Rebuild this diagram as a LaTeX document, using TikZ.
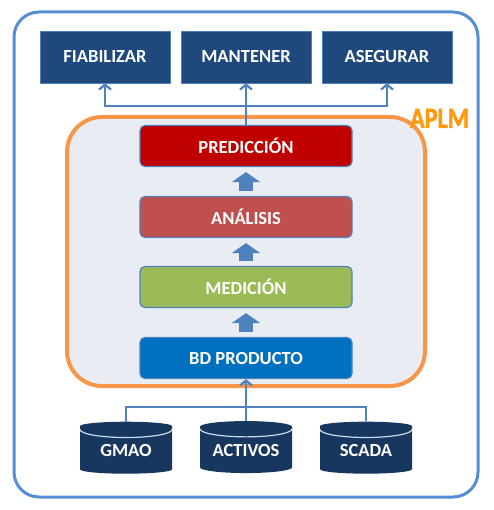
\documentclass[tikz,border=0pt]{standalone}
\usepackage{fontspec}
\setmainfont{Carlito}
\newfontfamily\aplmfont{Carlito}[UprightFont={* Bold}, FakeStretch=0.82,
FakeBold=1.5]
\usetikzlibrary{arrows.meta,shapes.geometric,calc}
\definecolor{navy}{HTML}{1F497D}
\definecolor{frameblue}{HTML}{558ED5}
\definecolor{lineblue}{HTML}{4F81BD}
\definecolor{aplmorange}{HTML}{F79646}
\definecolor{aplmtext}{HTML}{FF9A10}
\definecolor{panelgray}{HTML}{E9EDF3}
\definecolor{predred}{HTML}{C00000}
\definecolor{anared}{HTML}{C0504D}
\definecolor{medgreen}{HTML}{9BBB59}
\definecolor{bdblue}{HTML}{0070C0}
\definecolor{dbnavy}{HTML}{17375E}
\begin{document}
\begin{tikzpicture}[x=1pt, y=-1pt,
    goal/.style={rectangle, draw=lineblue, fill=navy, text=white,
      minimum width=130pt, minimum height=52pt, inner sep=0pt},
    layer/.style={rectangle, rounded corners=5pt, draw=lineblue,
      line width=1.2pt, text=white, minimum width=212pt,
      minimum height=41pt, inner sep=0pt},
    source/.style={cylinder, shape border rotate=90, aspect=0.17,
      fill=dbnavy, text=white, minimum width=92pt, minimum height=52pt,
      inner sep=0pt},
    feed/.style={draw=lineblue, line width=2.2pt},
    push/.style={lineblue, line width=14pt, shorten <=5pt, shorten >=5pt,
      -{Triangle[length=10pt, width=28pt]}},
    font=\fontsize{18.5}{21}\selectfont\bfseries]
  \useasboundingbox (0,0) rectangle (493,510);
  \fill[white] (0,0) rectangle (493,510);
  \draw[frameblue, line width=3pt, rounded corners=25pt] (14,12) rectangle
  (478,497);
  \draw[aplmorange, fill=panelgray, line width=4pt, rounded corners=35pt]
  (67,117) rectangle (425,386);
  \node[text=aplmtext, anchor=base, inner sep=0pt,
  font=\aplmfont\fontsize{29.5}{30}\selectfont] (aplm) at (439.5,128) {APLM};

  \begin{scope}[every node/.style={goal}]
    \node (fiab) at (105,57) {FIABILIZAR}; \node (mant) at (246,57)
    {MANTENER}; \node (aseg) at (387,57) {ASEGURAR};
  \end{scope}

  \begin{scope}[every node/.style={layer}]
    \node[fill=predred] (pred) at (246,146) {PREDICCIÓN}; \node[fill=anared]
    (ana) at (246,217) {ANÁLISIS}; \node[fill=medgreen] (med) at (246,287)
    {MEDICIÓN}; \node[fill=bdblue] (bd) at (246,358) {BD PRODUCTO};
  \end{scope}

  \begin{scope}[every node/.style={source}]
    \node (gmao) at (126,450) {GMAO}; \node (actv) at (246,450) {ACTIVOS};
    \node (scada) at (366,450) {SCADA};
  \end{scope}
  \foreach \db in {gmao,actv,scada}
    \draw[white!70!lineblue, line width=1.2pt] ($(\db.top)+(-46,8)$) arc
    [start angle=180, end angle=0, x radius=46, y radius=8];

  \draw[push] (bd) -- (med); \draw[push] (med) -- (ana); \draw[push] (ana)
  -- (pred);

  \coordinate (split) at (246,106); \coordinate (merge) at (246,407);
  \begin{scope}[feed, -{Straight Barb[length=5pt, width=12pt]}]
    \draw (pred.north) -- (mant.south); \draw (split) -| (fiab.south);
    \draw (split) -| (aseg.south); \draw (actv.top) -- (bd.south);
  \end{scope}
  \draw[feed] (gmao.top) |- (merge); \draw[feed] (scada.top) |- (merge);
\end{tikzpicture}
\end{document}
